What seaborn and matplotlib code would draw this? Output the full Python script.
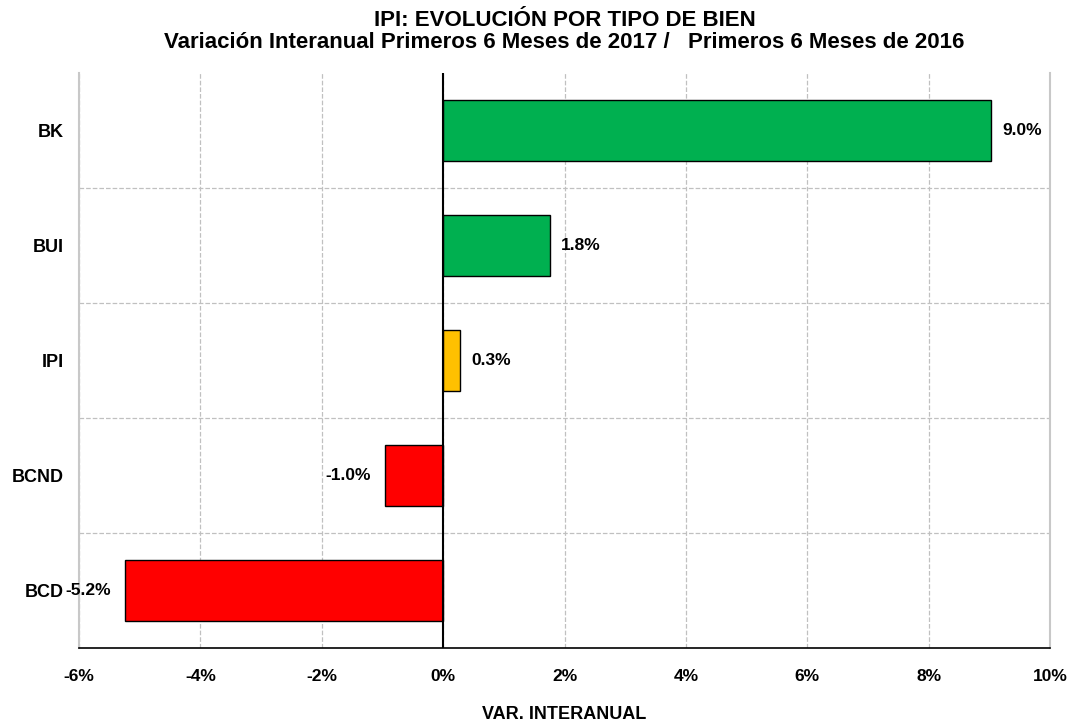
import matplotlib.pyplot as plt
import matplotlib.ticker as mticker
import pandas as pd
import seaborn as sns

categories = ["BK", "BUI", "IPI", "BCND", "BCD"]
values = [9.03, 1.76, 0.28, -0.96, -5.24]
bar_colors = ["#00B050", "#00B050", "#FFC000", "#FF0000", "#FF0000"]
x_ticks = [-6, -4, -2, 0, 2, 4, 6, 8, 10]

sns.set_theme(style="white")
plt.rcParams["font.family"] = ["Liberation Sans", "DejaVu Sans"]
plt.rcParams["text.color"] = "black"
plt.rcParams["xtick.color"] = "black"
plt.rcParams["ytick.color"] = "black"
plt.rcParams["axes.labelcolor"] = "black"

df = pd.DataFrame({"tipo": categories, "var": values})

fig = plt.figure(figsize=(10.73, 7.21), dpi=100)
ax = fig.add_axes([0.0736, 0.1012, 0.905, 0.7976])

sns.barplot(data=df, x="var", y="tipo", hue="tipo", palette=bar_colors,
            orient="h", width=0.53, edgecolor="black", linewidth=1.0,
            saturation=1, legend=False, ax=ax)

ax.set_xlim(-6, 10)
ax.set_ylim(len(categories) - 0.5, -0.5)
ax.set_xticks(x_ticks)
ax.xaxis.set_major_formatter(mticker.FuncFormatter(lambda v, p: f"{v:.0f}%"))
ax.set_yticks(range(len(categories)))
ax.set_yticklabels(categories)
ax.set_yticks([i + 0.5 for i in range(len(categories) - 1)], minor=True)

ax.grid(axis="x", which="major", linestyle="--", color="#c0c0c0", linewidth=0.9)
ax.grid(axis="y", which="minor", linestyle="--", color="#c0c0c0", linewidth=0.9)
ax.set_axisbelow(True)
ax.axvline(0, color="black", linewidth=1.5, zorder=3)

for side in ["left", "right"]:
    ax.spines[side].set_color("#c8c8c8")
    ax.spines[side].set_linewidth(1.5)
ax.spines["top"].set_visible(False)
ax.spines["bottom"].set_color("black")
ax.spines["bottom"].set_linewidth(1.2)

ax.tick_params(axis="y", which="both", length=0, pad=11)
ax.tick_params(axis="x", length=5, color="black", direction="out", pad=10)
for lbl in ax.get_xticklabels():
    lbl.set_fontweight("bold")
    lbl.set_fontsize(12.5)
for lbl in ax.get_yticklabels():
    lbl.set_fontweight("bold")
    lbl.set_fontsize(13)

for i, v in enumerate(values):
    if v >= 0:
        ax.annotate(f"{v:.1f}%", (v, i), xytext=(8, 0), textcoords="offset points",
                    ha="left", va="center", fontsize=12.5, fontweight="bold")
    else:
        ax.annotate(f"{v:.1f}%", (v, i), xytext=(-10, 0), textcoords="offset points",
                    ha="right", va="center", fontsize=12.5, fontweight="bold")

ax.set_ylabel("")
ax.set_xlabel("VAR. INTERANUAL", fontsize=13, fontweight="bold", labelpad=16)
ax.set_title("IPI: EVOLUCIÓN POR TIPO DE BIEN\n"
             "Variación Interanual Primeros 6 Meses de 2017 /   Primeros 6 Meses de 2016",
             fontsize=16, fontweight="bold", pad=18, linespacing=1.05)

fig.savefig("out.png", dpi=100)
